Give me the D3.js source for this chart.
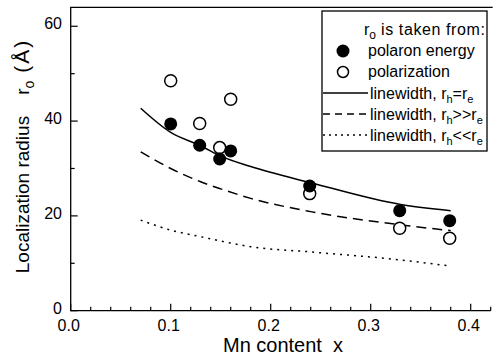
<!DOCTYPE html>
<html>
<head>
<meta charset="utf-8">
<script src="https://cdn.jsdelivr.net/npm/d3@7"></script>
<style>
  body { margin: 0; background: #fff; }
  svg { font-family: "Liberation Sans", Arial, sans-serif; }
</style>
</head>
<body>
<svg id="chart" width="493" height="360"></svg>
<script>
// measured points
const mnX = [0.10, 0.129, 0.149, 0.16, 0.239, 0.329, 0.379]
const polaronEnergy = [39.4, 34.9, 32.0, 33.7, 26.3, 21.1, 19.0]
const polarization = [48.5, 39.5, 34.4, 44.6, 24.7, 17.4, 15.3]

// linewidth curves
const curveX = [0.07, 0.10, 0.13, 0.15, 0.18, 0.24, 0.33, 0.38]
const lwEqual = [42.7, 37.6, 34.8, 32.6, 30.4, 27.0, 22.4, 21.1]
const lwGreater = [33.5, 30.0, 27.2, 25.7, 23.7, 20.9, 18.1, 16.9]
const lwLess = [19.1, 17.0, 15.6, 14.7, 13.5, 12.4, 10.7, 9.4]

const xTicks = [0.0, 0.1, 0.2, 0.3, 0.4]
const yTicks = [0, 20, 40, 60]

const svg = d3.select('#chart')
const mLeft = 70.7, mRight = 490.7, mTop = 7.3, mBottom = 310.7

let x = d3.scaleLinear().domain([0, 0.42]).range([mLeft, mRight])
let y = d3.scaleLinear().domain([0, 64]).range([mBottom, mTop])

// frame: left, bottom, top (no right side)
svg.append('path')
    .attr('d', `M${mRight + 2},${mTop}H${mLeft}V${mBottom}H${mRight}`)
    .attr('fill', 'none').attr('stroke', '#000').attr('stroke-width', 1.3)

// x ticks (inward)
let xMinor = d3.range(0, 0.421, 0.02)
svg.append('g').selectAll('line').data(xMinor).enter().append('line')
    .attr('x1', d => x(d)).attr('x2', d => x(d))
    .attr('y1', mBottom).attr('y2', (d, i) => mBottom - (i % 5 === 0 ? 7 : 4))
    .attr('stroke', '#000').attr('stroke-width', 1.2)
svg.append('g').selectAll('text').data(xTicks).enter().append('text')
    .attr('x', d => x(d) - 2).attr('y', 331)
    .attr('text-anchor', 'middle').attr('font-size', 16)
    .text(d => d3.format('.1f')(d))

// y ticks
let yMinor = d3.range(0, 61, 10)
svg.append('g').selectAll('line').data(yMinor).enter().append('line')
    .attr('x1', mLeft).attr('x2', (d, i) => mLeft + (i % 2 === 0 ? 7 : 4))
    .attr('y1', d => y(d)).attr('y2', d => y(d))
    .attr('stroke', '#000').attr('stroke-width', 1.2)
svg.append('g').selectAll('text').data(yTicks).enter().append('text')
    .attr('x', 62).attr('y', d => y(d) + 3)
    .attr('text-anchor', 'end').attr('font-size', 16)
    .text(d => d)

// axis titles
svg.append('text')
    .attr('x', 283).attr('y', 352)
    .attr('text-anchor', 'middle').attr('font-size', 20)
    .text('Mn content\u00a0\u00a0x')

let yt = svg.append('text')
    .attr('transform', 'translate(29,156) rotate(-90)')
    .attr('text-anchor', 'middle').attr('font-size', 19)
yt.append('tspan').text('Localization radius\u00a0\u00a0\u00a0\u00a0r')
yt.append('tspan').attr('font-size', 14).attr('dy', 5).text('o')
yt.append('tspan').attr('dy', -5).attr('font-size', 21).attr('letter-spacing', 2).text('\u00a0(Å)')

// curves
let line = d3.line().x(d => x(d[0])).y(d => y(d[1])).curve(d3.curveMonotoneX)
let curves = [
    {vals: lwEqual, dash: null},
    {vals: lwGreater, dash: '10,6'},
    {vals: lwLess, dash: '2,5'}
]
curves.forEach(c => {
    svg.append('path')
        .datum(curveX.map((cx, i) => [cx, c.vals[i]]))
        .attr('d', line)
        .attr('fill', 'none').attr('stroke', '#000')
        .attr('stroke-width', 1.5)
        .attr('stroke-dasharray', c.dash)
})

// markers
svg.append('g').selectAll('circle').data(mnX).enter().append('circle')
    .attr('cx', d => x(d)).attr('cy', (d, i) => y(polarization[i]))
    .attr('r', 6).attr('fill', '#fff').attr('stroke', '#000').attr('stroke-width', 1.5)
svg.append('g').selectAll('circle').data(mnX).enter().append('circle')
    .attr('cx', d => x(d)).attr('cy', (d, i) => y(polaronEnergy[i]))
    .attr('r', 6.5).attr('fill', '#000')

// legend
let lg = svg.append('g')
lg.append('rect')
    .attr('x', 322).attr('y', 11).attr('width', 165).attr('height', 140)
    .attr('fill', '#fff').attr('stroke', '#000').attr('stroke-width', 1.3)

let lt = lg.append('text').attr('x', 364).attr('y', 35).attr('font-size', 16)
lt.append('tspan').text('r')
lt.append('tspan').attr('font-size', 12).attr('dy', 4).text('o')
lt.append('tspan').attr('dy', -4).attr('letter-spacing', 0.6).text('\u00a0is taken from:')

lg.append('circle').attr('cx', 343).attr('cy', 51).attr('r', 6.5).attr('fill', '#000')
lg.append('text').attr('x', 368).attr('y', 56).attr('font-size', 16).text('polaron energy')
lg.append('circle').attr('cx', 343).attr('cy', 72).attr('r', 5.5)
    .attr('fill', '#fff').attr('stroke', '#000').attr('stroke-width', 1.5)
lg.append('text').attr('x', 368).attr('y', 77).attr('font-size', 16).text('polarization')

let lineItems = [
    {dash: null, sub: '=', yy: 93},
    {dash: '7,5', sub: '>>', yy: 114},
    {dash: '2,4', sub: '<<', yy: 135}
]
lineItems.forEach(it => {
    lg.append('line').attr('x1', 323).attr('x2', 368)
        .attr('y1', it.yy).attr('y2', it.yy)
        .attr('stroke', '#000').attr('stroke-width', 1.3)
        .attr('stroke-dasharray', it.dash)
    let t = lg.append('text').attr('x', 370).attr('y', it.yy + 6).attr('font-size', 16)
    t.append('tspan').text('linewidth, r')
    t.append('tspan').attr('font-size', 11).attr('dy', 4).text('h')
    t.append('tspan').attr('dy', -4).text(it.sub + 'r')
    t.append('tspan').attr('font-size', 11).attr('dy', 4).text('e')
})
</script>
</body>
</html>
